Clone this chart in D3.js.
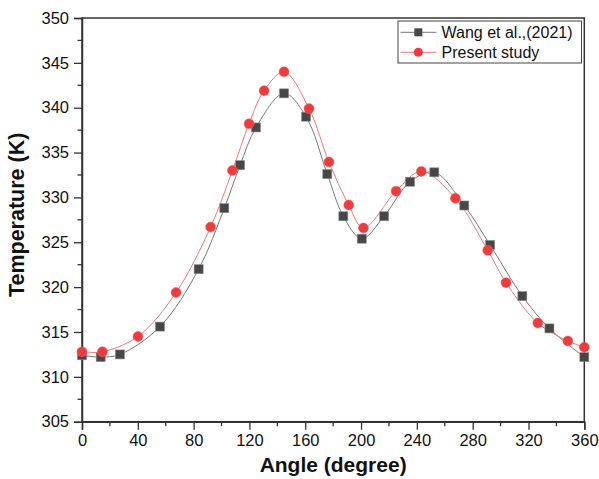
<!DOCTYPE html>
<html>
<head>
<meta charset="utf-8">
<script src="https://cdn.jsdelivr.net/npm/d3@7"></script>
<style>
  html, body { margin: 0; padding: 0; background: #fff; }
  svg { display: block; }
  text { font-family: Arial, "Liberation Sans", sans-serif; }
</style>
</head>
<body>
<svg id="chart" width="599" height="479"></svg>
<script>
// Temperature around the circumference (angle in degrees)
const wangAngle = [0, 13.4, 27.2, 55.9, 83.6, 102, 113.3, 124.7, 144.8, 160.6, 175.8, 187.3, 200.5, 216.5, 235.1, 252.5, 274, 292.5, 315.6, 335, 360];
const wangTemp  = [312.4, 312.2, 312.5, 315.6, 322.0, 328.8, 333.6, 337.8, 341.6, 339.0, 332.6, 327.9, 325.4, 327.9, 331.75, 332.8, 329.1, 324.7, 319.0, 315.4, 312.2];

const presentAngle = [0, 14.6, 40.1, 67.4, 92.2, 107.8, 119.7, 130.5, 144.8, 162.7, 177, 191.2, 201.7, 225.1, 243.2, 267.6, 290.8, 303.9, 326.7, 348.2, 360];
const presentTemp  = [312.8, 312.8, 314.5, 319.4, 326.7, 333.0, 338.2, 341.9, 344.0, 339.9, 333.95, 329.15, 326.6, 330.7, 332.9, 329.9, 324.1, 320.5, 316.0, 314.0, 313.3];

const xTicks = [0, 40, 80, 120, 160, 200, 240, 280, 320, 360];
const yTicks = [305, 310, 315, 320, 325, 330, 335, 340, 345, 350];

const seriesNames = ["Wang et al.,(2021)", "Present study"];

const W = 599, H = 479;
const margin = { top: 18, right: 14.7, bottom: 57.3, left: 82 };
const iw = W - margin.left - margin.right;
const ih = H - margin.top - margin.bottom;

const svg = d3.select("#chart");
const g = svg.append("g").attr("transform", `translate(${margin.left},${margin.top})`);

const x = d3.scaleLinear().domain([0, 360]).range([0, iw]);
const y = d3.scaleLinear().domain([305, 350]).range([ih, 0]);

const axisColor = "#333";

// frame
g.append("rect").attr("x", 0).attr("y", 0).attr("width", iw).attr("height", ih)
  .attr("fill", "none").attr("stroke", axisColor).attr("stroke-width", 1.5);

// minor ticks
const xMinor = d3.range(20, 360, 40);
const yMinor = d3.range(307.5, 350, 5);
g.selectAll(".xminor").data(xMinor).join("line")
  .attr("x1", d => x(d)).attr("x2", d => x(d)).attr("y1", ih).attr("y2", ih + 4.5)
  .attr("stroke", axisColor).attr("stroke-width", 1.3);
g.selectAll(".yminor").data(yMinor).join("line")
  .attr("y1", d => y(d)).attr("y2", d => y(d)).attr("x1", 0).attr("x2", -4.5)
  .attr("stroke", axisColor).attr("stroke-width", 1.3);

// axes
const xAxis = g.append("g").attr("transform", `translate(0,${ih})`)
  .call(d3.axisBottom(x).tickValues(xTicks).tickSize(8).tickPadding(5).tickFormat(d3.format("d")));
const yAxis = g.append("g")
  .call(d3.axisLeft(y).tickValues(yTicks).tickSize(8).tickPadding(5).tickFormat(d3.format("d")));
[xAxis, yAxis].forEach(a => {
  a.select(".domain").attr("stroke", axisColor).attr("stroke-width", 1.5);
  a.selectAll(".tick line").attr("stroke", axisColor).attr("stroke-width", 1.3);
  a.selectAll(".tick text").attr("font-size", 16.5).attr("fill", "#111")
    .attr("font-family", "Arial, 'Liberation Sans', sans-serif");
});

// axis titles
svg.append("text").attr("x", margin.left + iw / 2).attr("y", 472)
  .attr("text-anchor", "middle").attr("font-weight", "bold").attr("font-size", 21)
  .attr("fill", "#111").text("Angle (degree)");
svg.append("text").attr("transform", `translate(23.5,${margin.top + ih / 2 - 5}) rotate(-90)`)
  .attr("text-anchor", "middle").attr("font-weight", "bold").attr("font-size", 21.5)
  .attr("fill", "#111").text("Temperature (K)");

const wang = wangAngle.map((a, i) => ({ a, t: wangTemp[i] }));
const present = presentAngle.map((a, i) => ({ a, t: presentTemp[i] }));

const line = d3.line().x(d => x(d.a)).y(d => y(d.t)).curve(d3.curveCatmullRom.alpha(0.5));

const wangLine = "#7a7a7a", presentLine = "#f07a7a";
const sqFill = "#474747", circFill = "#ef3a3e";

g.append("path").datum(wang).attr("d", line).attr("fill", "none")
  .attr("stroke", wangLine).attr("stroke-width", 1);
g.append("path").datum(present).attr("d", line).attr("fill", "none")
  .attr("stroke", presentLine).attr("stroke-width", 1);

const sq = 9;
g.selectAll(".sq").data(wang).join("rect")
  .attr("x", d => x(d.a) - sq / 2).attr("y", d => y(d.t) - sq / 2)
  .attr("width", sq).attr("height", sq)
  .attr("fill", sqFill).attr("stroke", "#8a8a8a").attr("stroke-width", 0.6);
g.selectAll(".circ").data(present).join("circle")
  .attr("cx", d => x(d.a)).attr("cy", d => y(d.t)).attr("r", 5)
  .attr("fill", circFill).attr("stroke", "#f26a6a").attr("stroke-width", 0.5);

// legend
const leg = svg.append("g");
leg.append("rect").attr("x", 398).attr("y", 21).attr("width", 183.5).attr("height", 42)
  .attr("fill", "#fff").attr("stroke", "#444").attr("stroke-width", 1);
const rows = [
  { name: seriesNames[0], color: wangLine, shape: "sq", cy: 32.3 },
  { name: seriesNames[1], color: presentLine, shape: "circ", cy: 52.3 }
];
rows.forEach(r => {
  leg.append("line").attr("x1", 400.5).attr("x2", 436.5).attr("y1", r.cy).attr("y2", r.cy)
    .attr("stroke", r.color).attr("stroke-width", 1);
  if (r.shape === "sq") {
    leg.append("rect").attr("x", 418.3 - 4).attr("y", r.cy - 4).attr("width", 8).attr("height", 8)
      .attr("fill", sqFill);
  } else {
    leg.append("circle").attr("cx", 418.3).attr("cy", r.cy).attr("r", 4.5).attr("fill", circFill);
  }
  leg.append("text").attr("x", 441.5).attr("y", r.cy + 5.8).attr("font-size", 16)
    .attr("fill", "#111").text(r.name);
});
</script>
</body>
</html>
